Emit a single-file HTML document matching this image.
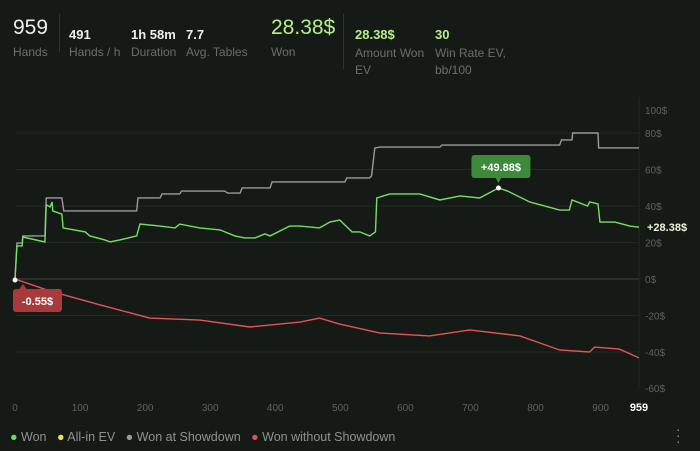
<!DOCTYPE html>
<html><head><meta charset="utf-8"><style>
body{margin:0;width:700px;height:451px;background:#161a17;font-family:"Liberation Sans",sans-serif;overflow:hidden;position:relative}
.a{position:absolute;white-space:nowrap}
.big{font-size:21px;color:#eee}
.v{font-size:13px;font-weight:bold;color:#eee}
.l{font-size:12px;color:#6b6f6b}
.g{color:#b5ef8a}
.sep{position:absolute;width:1px;background:#2f332f}
</style></head><body>
<div class="a big" style="left:13px;top:16px">959</div>
<div class="a l" style="left:13px;top:45px">Hands</div>
<div class="sep" style="left:59px;top:14px;height:38px"></div>
<div class="a v" style="left:69px;top:27px">491</div>
<div class="a l" style="left:69px;top:45px">Hands / h</div>
<div class="a v" style="left:131px;top:27px">1h 58m</div>
<div class="a l" style="left:131px;top:45px">Duration</div>
<div class="a v" style="left:186px;top:27px">7.7</div>
<div class="a l" style="left:186px;top:45px">Avg. Tables</div>
<div class="a g" style="left:271px;top:16px;font-size:21px">28.38$</div>
<div class="a l" style="left:271px;top:45px">Won</div>
<div class="sep" style="left:343px;top:14px;height:55px"></div>
<div class="a v g" style="left:355px;top:27px">28.38$</div>
<div class="a l" style="left:355px;top:45px;line-height:17px">Amount Won<br>EV</div>
<div class="a v g" style="left:435px;top:27px">30</div>
<div class="a l" style="left:435px;top:45px;line-height:17px">Win Rate EV,<br>bb/100</div>

<svg id="c" width="700" height="451" style="position:absolute;left:0;top:0"></svg>

<div class="a" style="left:10px;top:430px;font-size:12.5px;color:#8f938f">
<span><span style="color:#5fe25a">●</span> Won</span>&nbsp;&nbsp;
<span><span style="color:#e8e25a">●</span> All-in EV</span>&nbsp;&nbsp;
<span><span style="color:#999">●</span> Won at Showdown</span>&nbsp;&nbsp;
<span><span style="color:#e05050">●</span> Won without Showdown</span>
</div>
<div class="a" style="left:676px;top:426px;color:#888;font-size:14px;line-height:6px">·<br>·<br>·</div>

<script>
const wonData=[[0,0],[3,18.1],[11,18.1],[12,23],[46,20.3],[48,40.6],[54,39.5],[57,42.2],[58,37.3],[72,35.6],[74,28],[108,25.8],[115,23.6],[138,21.4],[146,20.3],[161,21.4],[187,23.6],[192,30.1],[223,29],[246,28],[253,30.1],[284,28],[315,26.9],[338,23.6],[353,22.5],[369,22.5],[384,24.7],[392,23.6],[422,29],[438,29],[468,28],[484,31.2],[499,32.3],[518,25.8],[530,25.8],[545,23.6],[554,25.8],[556,44.4],[576,46.6],[622,46.6],[653,43.3],[684,45.5],[714,44.4],[743,49.88],[757,48.2],[791,42.2],[837,37.8],[852,37.8],[856,43.3],[880,40],[883,42.2],[896,41.1],[899,31.2],[922,31.2],[945,29],[959,28.38]];
const showdownData=[[0,0],[3,19.7],[11,19.7],[12,23.6],[46,23.6],[48,44.4],[72,44.4],[75,37.3],[187,37.3],[189,44.4],[223,44.4],[226,46.6],[253,46.6],[256,48.2],[322,48.2],[327,47.1],[346,47.1],[349,49.9],[392,49.9],[395,53.2],[507,53.2],[510,55.4],[545,55.4],[548,56.5],[553,71.8],[561,72.3],[653,72.3],[656,73.4],[837,73.4],[840,76.2],[856,76.2],[857,80],[896,80],[897,71.8],[959,71.8]];
const noShowdownData=[[0,0],[54,-6.6],[131,-14.2],[207,-21.4],[284,-22.5],[361,-26.3],[438,-23.6],[468,-21.4],[499,-24.7],[561,-29.6],[637,-31.2],[699,-27.9],[776,-31.2],[837,-38.9],[883,-40],[891,-37.3],[929,-38.4],[959,-43.2]];
const xTicks=[0,100,200,300,400,500,600,700,800,900];
const yTicks=[100,80,60,40,20,0,-20,-40,-60];
const maxHand=959, finalWon=28.38, peakWon=[743,49.88], minWon=[0,-0.55];

const X0=15,X1=639,Y0=279,PX=1.825;
const sx=h=>X0+h*(X1-X0)/maxHand;
const sy=v=>Y0-v*PX;
const svg=document.getElementById('c');
const NS='http://www.w3.org/2000/svg';
function mk(t,a){const e=document.createElementNS(NS,t);for(const k in a)e.setAttribute(k,a[k]);svg.appendChild(e);return e;}

const frame=mk('line',{x1:X1,x2:X1,y1:97,y2:388,stroke:'#232823'});


yTicks.forEach(v=>{
  const y=sy(v);
  if(v>-60&&v<100){const g=mk('line',{x1:X0,x2:X1,y1:y,y2:y,stroke:v===0?'#3e433e':'#232823'});
  
  }
  const t=mk('text',{x:645,y:Math.min(Math.max(y,110),388)+4,fill:'#5d615d','font-size':10});
  t.textContent=v+'$';
  
  
});
xTicks.forEach(h=>{
  const t=mk('text',{x:sx(h),y:411,fill:'#5d615d','font-size':10,'text-anchor':'middle'});
  t.textContent=h;
  
  
});
const tm=mk('text',{x:X1,y:411,fill:'#fff','font-size':11,'font-weight':'bold','text-anchor':'middle'});
tm.textContent=maxHand;



function line(d,c,name){
  const p=mk('polyline',{points:d.map(p=>sx(p[0])+','+sy(p[1])).join(' '),fill:'none',stroke:c,'stroke-width':1.4});
  
  
}
line(showdownData,'#9a9a9a','won-at-showdown-line');
line(noShowdownData,'#e65454','won-without-showdown-line');
line(wonData,'#74e063','won-line');

const fl=mk('text',{x:647,y:sy(finalWon)+4,fill:'#e8f5d8','font-size':11,'font-weight':'bold'});
fl.textContent='+'+finalWon+'$';



const px=sx(peakWon[0]),py=sy(peakWon[1]);
const pb=mk('rect',{x:px-27,y:py-33,width:59,height:23,rx:3,fill:'#3d8b3a'});


const pa=mk('path',{d:`M${px-3} ${py-10.5}L${px} ${py-5}L${px+3} ${py-10.5}Z`,fill:'#3d8b3a'});


const pt=mk('text',{x:px+2.5,y:py-17,fill:'#fff','font-size':11,'font-weight':'bold','text-anchor':'middle'});
pt.textContent='+'+peakWon[1]+'$';


const pd=mk('circle',{cx:px,cy:py,r:2.5,fill:'#fff'});



const mx=sx(minWon[0]),my=sy(minWon[1]);
const mb=mk('rect',{x:mx-2,y:my+9,width:49,height:23,rx:3,fill:'#a9393b'});


const ma=mk('path',{d:`M${mx+4} ${my+9.5}L${mx+8} ${my+4}L${mx+12} ${my+9.5}Z`,fill:'#a9393b'});


const mt=mk('text',{x:mx+22.5,y:my+25,fill:'#fff','font-size':11,'font-weight':'bold','text-anchor':'middle'});
mt.textContent=minWon[1]+'$';


const md=mk('circle',{cx:mx,cy:my,r:2.5,fill:'#fff'});


</script>
</body></html>
